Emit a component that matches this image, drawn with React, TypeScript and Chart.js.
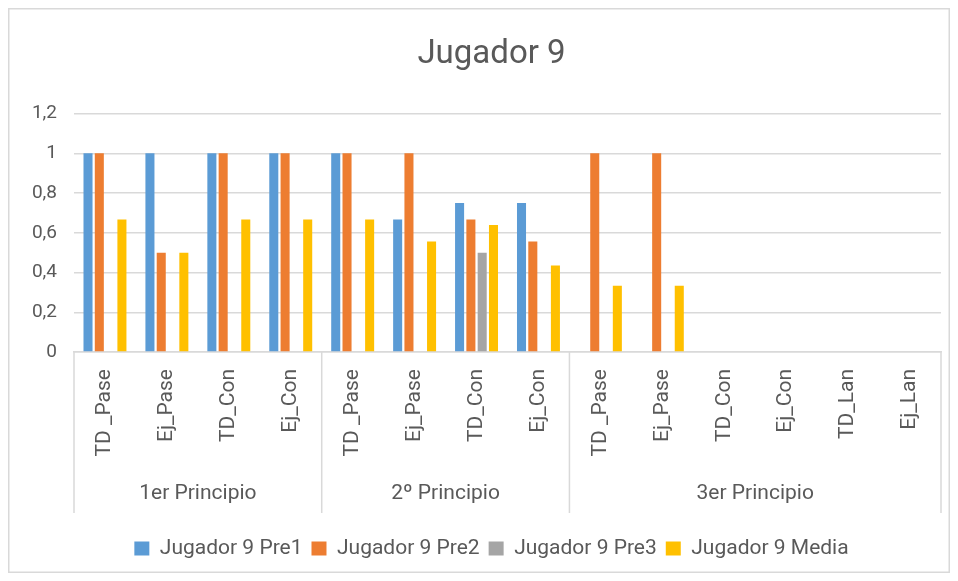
import React, { useEffect, useRef } from "react";
import { Chart, registerables } from "chart.js";

Chart.register(...registerables);

const categories = [
  "TD _Pase", "Ej_Pase", "TD_Con", "Ej_Con",
  "TD _Pase", "Ej_Pase", "TD_Con", "Ej_Con",
  "TD _Pase", "Ej_Pase", "TD_Con", "Ej_Con", "TD_Lan", "Ej_Lan",
];
const groups = ["1er Principio", "2º Principio", "3er Principio"];
const groupSizes = [4, 4, 6];

const pre1 = [1, 1, 1, 1, 1, 0.667, 0.75, 0.75, 0, 0, 0, 0, 0, 0];
const pre2 = [1, 0.5, 1, 1, 1, 1, 0.667, 0.556, 1, 1, 0, 0, 0, 0];
const pre3 = [0, 0, 0, 0, 0, 0, 0.5, 0, 0, 0, 0, 0, 0, 0];
const media = [0.667, 0.5, 0.667, 0.667, 0.667, 0.556, 0.639, 0.435, 0.333, 0.333, 0, 0, 0, 0];

const seriesNames = ["Jugador 9 Pre1", "Jugador 9 Pre2", "Jugador 9 Pre3", "Jugador 9 Media"];
const seriesColors = ["#5B9BD5", "#ED7D31", "#A5A5A5", "#FFC000"];

const TEXT = "#595959";
const GRID = "#d9d9d9";
const FONT = "Roboto, 'Liberation Sans', sans-serif";

const axisPlugin = {
  id: "twoLevelAxis",
  afterDraw(chart: any) {
    const ctx = chart.ctx;
    const x = chart.scales.x;
    const area = chart.chartArea;
    const base = area.bottom;
    ctx.save();
    ctx.fillStyle = TEXT;
    ctx.font = `21px ${FONT}`;
    ctx.textAlign = "right";
    ctx.textBaseline = "middle";
    categories.forEach((c, i) => {
      const px = x.getPixelForValue(i);
      ctx.save();
      ctx.translate(px, base + 17);
      ctx.rotate(-Math.PI / 2);
      ctx.fillText(c, 0, 0);
      ctx.restore();
    });
    ctx.strokeStyle = GRID;
    ctx.lineWidth = 1.5;
    let start = 0;
    const bounds: number[] = [area.left];
    groupSizes.forEach((n, g) => {
      const end = start + n;
      const right = end >= categories.length ? area.right : x.getPixelForValue(end - 0.5);
      bounds.push(right);
      const left = bounds[g];
      ctx.font = `21px ${FONT}`;
      ctx.textAlign = "center";
      ctx.textBaseline = "middle";
      ctx.fillText(groups[g], (left + right) / 2, base + 142);
      start = end;
    });
    bounds.forEach((b) => {
      ctx.beginPath();
      ctx.moveTo(b, base);
      ctx.lineTo(b, base + 161);
      ctx.stroke();
    });
    ctx.strokeStyle = GRID;
    ctx.lineWidth = 1.5;
    ctx.strokeRect(0.75, 0.75, chart.width - 1.5, chart.height - 1.5);
    ctx.restore();
  },
};

export default function App() {
  const ref = useRef<HTMLCanvasElement>(null);
  useEffect(() => {
    if (!ref.current) return;
    const datasets = [pre1, pre2, pre3, media].map((d, i) => ({
      label: seriesNames[i],
      data: d,
      backgroundColor: seriesColors[i],
      borderWidth: 0,
      categoryPercentage: 0.73,
      barPercentage: 0.8,
    }));
    const chart = new Chart(ref.current, {
      type: "bar",
      data: { labels: categories, datasets },
      options: {
        animation: false,
        responsive: false,
        maintainAspectRatio: false,
        layout: { padding: { left: 25, right: 0, top: 0, bottom: 4 } },
        plugins: {
          title: {
            display: true,
            text: "Jugador 9",
            color: TEXT,
            font: { family: FONT, size: 33, weight: "normal" },
            padding: { top: 27, bottom: 39 },
          },
          legend: {
            position: "bottom",
            labels: {
              color: TEXT,
              font: { family: FONT, size: 21 },
              boxWidth: 15,
              boxHeight: 14,
              padding: 9,
            },
          },
          tooltip: { enabled: false },
        },
        scales: {
          x: {
            grid: { display: false },
            border: { display: true, color: GRID, width: 1.5 },
            ticks: { display: false },
            afterFit: (s: any) => { s.height = 177; },
          },
          y: {
            min: 0,
            max: 1.2,
            grid: { color: GRID, lineWidth: 1.5, drawTicks: false },
            border: { display: false },
            ticks: {
              stepSize: 0.2,
              color: TEXT,
              padding: 17,
              font: { family: FONT, size: 19 },
              callback: (v: any) => String(Number(Number(v).toFixed(1))).replace(".", ","),
            },
            afterFit: (s: any) => { s.width = 41; },
          },
          yR: {
            position: "right",
            display: true,
            min: 0,
            max: 1.2,
            grid: { display: false, drawTicks: false },
            border: { display: false },
            ticks: { display: false },
            afterFit: (s: any) => { s.width = 9; },
          },
        },
      },
      plugins: [axisPlugin],
    });
    return () => chart.destroy();
  }, []);
  return (
    <div style={{ width: 942, height: 565 }}>
      <canvas ref={ref} width={942} height={565} style={{ display: "block" }} />
    </div>
  );
}
